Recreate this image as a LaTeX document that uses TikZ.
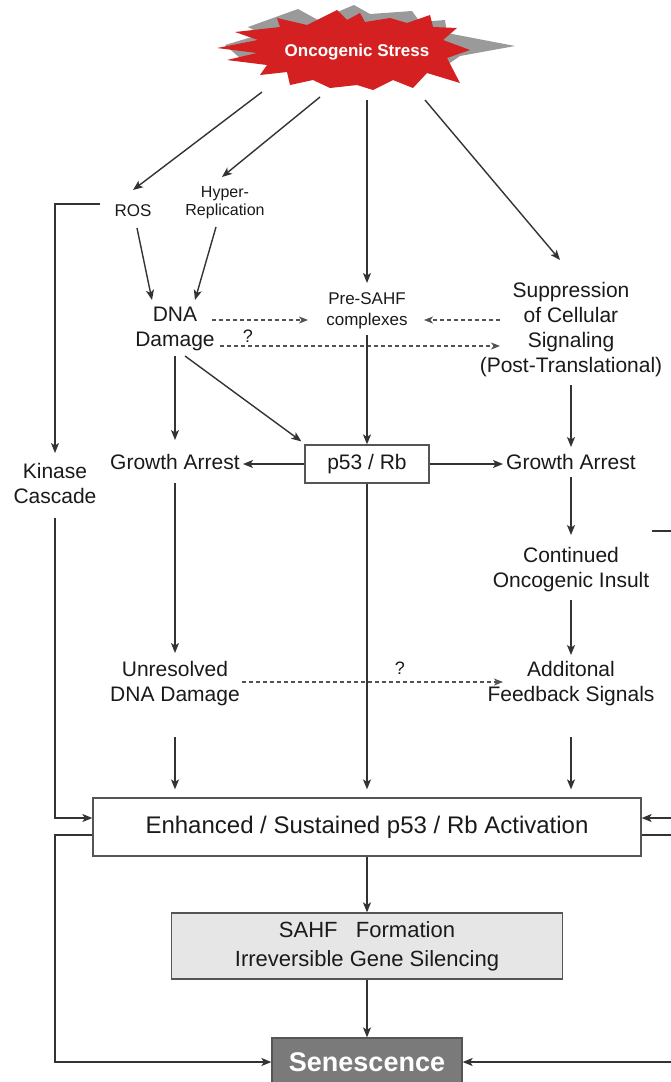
\documentclass[tikz,border=0pt]{standalone}
\usepackage{fontspec}
\setmainfont{Liberation Sans}
\usetikzlibrary{arrows.meta,calc}
\definecolor{linec}{HTML}{333333}
\definecolor{txt}{HTML}{1A1A1A}
\definecolor{boxc}{HTML}{555555}
\definecolor{starred}{HTML}{D42020}
\definecolor{shadowc}{HTML}{9A9A9A}
\definecolor{sahffill}{HTML}{E6E6E6}
\definecolor{senfill}{HTML}{7A7A7A}
\begin{document}
\begin{tikzpicture}[x=1pt,y=-1pt,
  line width=1.4pt,
  arr/.style={draw=linec, -{Stealth[length=10pt,width=8pt,inset=2.5pt]}},
  dsh/.style={draw=linec!85, line width=1.2pt, dash pattern=on 4pt off 3pt, -{Stealth[length=9pt,width=7pt,inset=2.5pt]}},
  ln/.style={draw=linec},
  lbl/.style={text=txt, align=center, inner sep=0pt, font=\fontsize{21}{25}\selectfont},
  sm/.style={text=txt, align=center, inner sep=0pt, font=\fontsize{17}{18}\selectfont},
  box/.style={draw=boxc, line width=1.3pt, inner sep=0pt, text=txt, align=center}
]
\useasboundingbox (0,0) rectangle (671,1082);
\clip (0,0) rectangle (671,1082);
\fill[white] (0,0) rectangle (671,1082);

% star
\fill[shadowc] (225,45)--(262,34)--(248,27)--(298,9)--(318,20)--(354,5)--(370,14)--(412,11)--(420,22)--(445,20)--(447,33)--(515,46)--(460,56)--(440,70)--(300,70)--(240,58)--cycle;
\fill[starred] (217,48)--(258,40)--(235,32)--(280,27)--(277,18)--(307,25)--(337,10)--(347,20)--(360,13)--(365,22)--(390,18)--(407,23)--(430,15)--(433,27)--(457,28)--(443,40)--(470,50)--(447,58)--(460,83)--(427,73)--(413,88)--(393,80)--(373,90)--(357,85)--(330,88)--(313,80)--(290,85)--(287,72)--(260,75)--(267,65)--(227,60)--(257,53)--cycle;
\node[text=white, font=\bfseries\fontsize{17}{20}\selectfont, inner sep=0pt] (os) at (357,52) {Oncogenic Stress};
\coordinate (s1) at (262,92);
\coordinate (s2) at (320,97);
\coordinate (s3) at (367,100);
\coordinate (s4) at (425,100);

% text nodes
\node[sm] (ros) at (133,211) {ROS};
\node[sm, font=\fontsize{16}{18}\selectfont] (hyp) at (225,203) {Hyper-\\Replication};
\node[lbl] (dna) at (175,329) {DNA\\Damage};
\node[sm, font=\fontsize{17}{21}\selectfont] (pre) at (367,311) {Pre-SAHF\\complexes};
\node[lbl] (sup) at (571,330) {Suppression\\of Cellular\\Signaling\\(Post-Translational)};
\node[box, minimum width=124pt, minimum height=38pt, font=\fontsize{21}{25}\selectfont] (p53) at (367,464) {p53 / Rb};
\node[lbl] (gal) at (175,462) {Growth Arrest};
\node[lbl] (gar) at (571,462) {Growth Arrest};
\node[lbl] (kin) at (55,483) {Kinase\\Cascade};
\node[lbl] (cont) at (571,570) {Continued\\Oncogenic Insult};
\node[lbl] (unres) at (175,684) {Unresolved\\DNA Damage};
\node[lbl] (add) at (571,684) {Additonal\\Feedback Signals};
\node[sm, font=\fontsize{18}{20}\selectfont] (q1) at (248,336) {?};
\node[sm, font=\fontsize{18}{20}\selectfont] (q2) at (400,668) {?};
\node[box, minimum width=548pt, minimum height=58pt, font=\fontsize{24}{28}\selectfont] (enh) at (367,827) {Enhanced / Sustained p53 / Rb Activation};
\node[box, fill=sahffill, minimum width=391pt, minimum height=66pt, font=\fontsize{22}{29}\selectfont] (sahf) at (367,946) {SAHF\ \ \ Formation\\Irreversible Gene Silencing};
\node[box, fill=senfill, text=white, minimum width=190pt, minimum height=48pt, font=\bfseries\fontsize{27}{30}\selectfont] (sen) at (367,1062) {Senescence};

\coordinate (r0) at (671,531);
\coordinate (r1) at (671,818);
\coordinate (r2) at (671,835);
\coordinate (r3) at (671,1062);

% connectors from star
\draw[arr] (s1) -- ($(ros)+(0,-21)$);
\draw[arr] (s2) -- ($(hyp)+(-3,-26)$);
\draw[arr] (s3) -- ($(pre)+(0,-28)$);
\draw[arr] (s4) -- ($(sup)+(-11,-70)$);

% to DNA damage
\draw[arr] ($(ros)+(4,17)$) -- ($(dna)+(-23,-29)$);
\draw[arr] ($(hyp)+(-9,24)$) -- ($(dna)+(20,-29)$);

% dashed
\draw[dsh] ($(dna)+(37,-9)$) -- ($(pre)+(-59,9)$);
\draw[dsh] ($(sup)+(-71,-10)$) -- ($(pre)+(57,9)$);
\draw[dsh] ($(dna)+(45,17)$) -- ($(sup)+(-71,16)$);
\draw[dsh] ($(unres)+(67,-2)$) -- ($(add)+(-68,-2)$);

% middle rows
\draw[arr] ($(dna)+(0,27)$) -- ($(gal)+(0,-22)$);
\draw[arr] ($(dna)+(10,27)$) -- ($(p53.north west)+(-3,-3)$);
\draw[arr] ($(pre)+(0,24)$) -- (p53.north);
\draw[arr] ($(sup)+(0,55)$) -- ($(gar)+(0,-15)$);
\draw[arr] (p53.west) -- ($(p53.west -| gal)+(68,0)$);
\draw[arr] (p53.east) -- ($(p53.east -| gar)+(-68,0)$);
\draw[arr] ($(gal)+(0,21)$) -- ($(unres)+(0,-31)$);
\draw[arr] (p53.south) -- ($(enh.north)+(0,-8)$);
\draw[arr] ($(gar)+(0,15)$) -- ($(cont)+(0,-35)$);
\draw[ln] ($(cont)+(81,-39)$) -- (r0);
\draw[arr] ($(cont)+(0,30)$) -- ($(add)+(0,-29)$);
\draw[arr] ($(unres)+(0,53)$) -- ($(enh.north -| unres)+(0,-8)$);
\draw[arr] ($(add)+(0,53)$) -- ($(enh.north -| add)+(0,-8)$);

% left loop
\draw[arr] ($(ros)+(-33,-7)$) -| ($(kin)+(0,-30)$);
\draw[arr] ($(kin)+(0,35)$) |- ($(enh.west)+(0,-9)$);
\draw[arr] ($(enh.west)+(0,8)$) -| (kin |- sen.west) -- (sen.west);

% right side
\draw[arr] (r1) -- ($(enh.east)+(0,-9)$);
\draw[ln] ($(enh.east)+(0,8)$) -- (r2);
\draw[arr] (r3) -- (sen.east);

% bottom
\draw[arr] (enh.south) -- (sahf.north);
\draw[arr] (sahf.south) -- (sen.north);
\end{tikzpicture}
\end{document}
